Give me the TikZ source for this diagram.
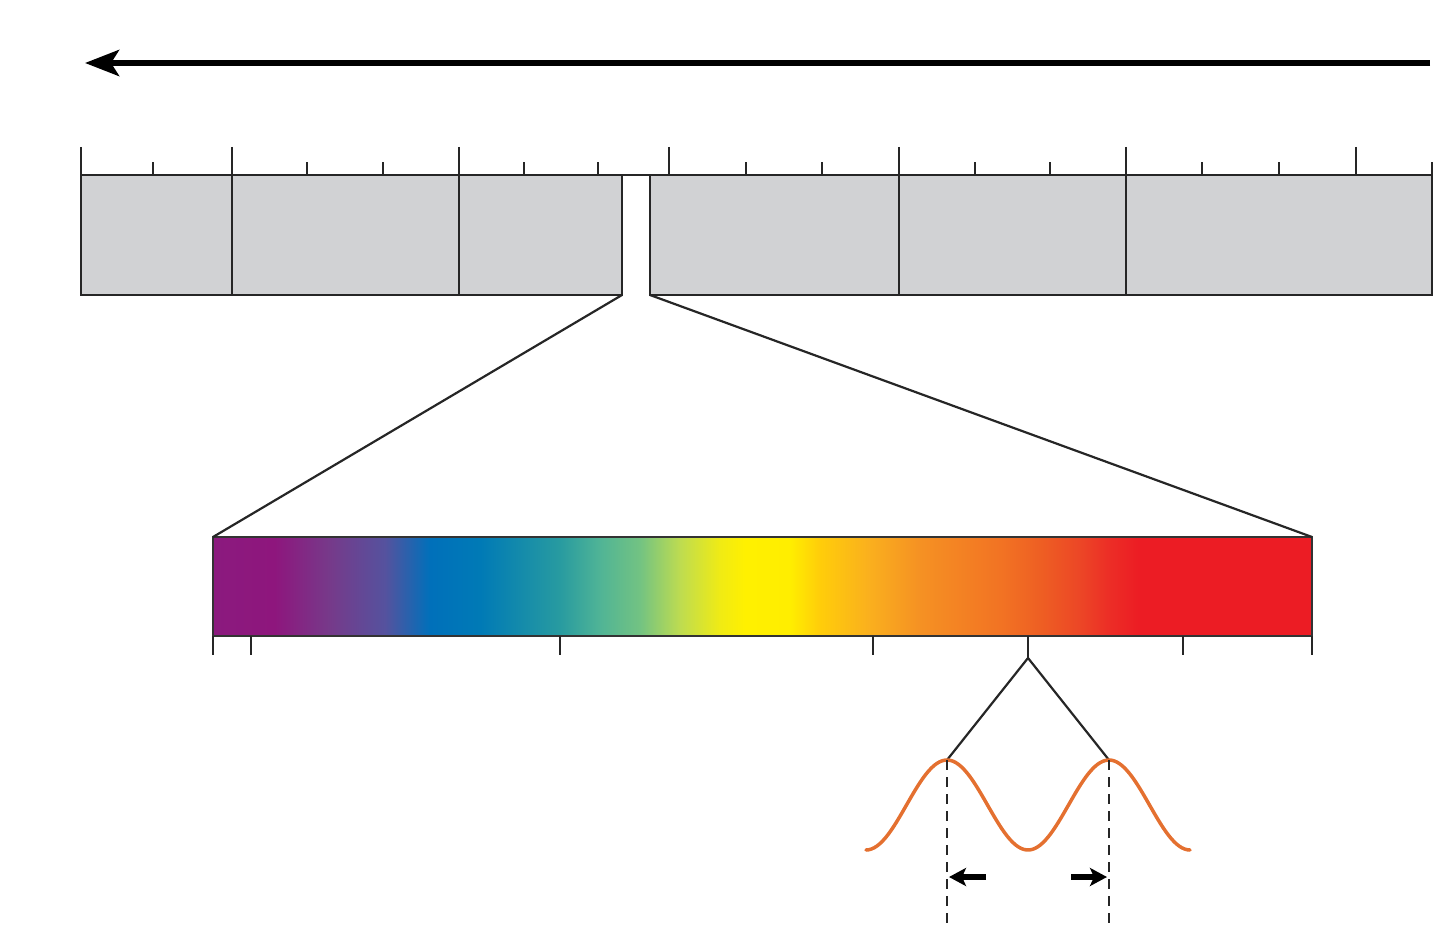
\documentclass[tikz,border=0pt]{standalone}
\usetikzlibrary{arrows.meta}
\definecolor{boxgray}{RGB}{209,210,212}
\definecolor{waveor}{RGB}{228,112,48}
\definecolor{sA}{RGB}{139,26,126}
\definecolor{sB}{RGB}{142,22,125}
\definecolor{sC}{RGB}{118,58,138}
\definecolor{sD}{RGB}{85,82,158}
\definecolor{sE}{RGB}{0,112,186}
\definecolor{sF}{RGB}{0,122,182}
\definecolor{sG}{RGB}{40,155,160}
\definecolor{sH}{RGB}{80,180,150}
\definecolor{sI}{RGB}{115,195,130}
\definecolor{sJ}{RGB}{190,220,80}
\definecolor{sK}{RGB}{240,235,20}
\definecolor{sL}{RGB}{255,240,0}
\definecolor{sM}{RGB}{255,238,0}
\definecolor{sN}{RGB}{255,205,10}
\definecolor{sO}{RGB}{250,175,30}
\definecolor{sP}{RGB}{245,145,35}
\definecolor{sQ}{RGB}{242,115,35}
\definecolor{sR}{RGB}{238,95,35}
\definecolor{sS}{RGB}{236,70,38}
\definecolor{sT}{RGB}{236,45,38}
\definecolor{sU}{RGB}{236,28,36}
\pgfdeclarehorizontalshading{spectrum}{100bp}{color(0bp)=(sA); color(25bp)=(sA); color(27.8bp)=(sB); color(30.32bp)=(sC); color(32.83bp)=(sD); color(34.87bp)=(sE); color(37.15bp)=(sF); color(40.79bp)=(sG); color(42.6bp)=(sH); color(44.43bp)=(sI); color(46.25bp)=(sJ); color(48.07bp)=(sK); color(49.2bp)=(sL); color(51.25bp)=(sM); color(52.61bp)=(sN); color(54.89bp)=(sO); color(57.17bp)=(sP); color(60.81bp)=(sQ); color(62.62bp)=(sR); color(64.45bp)=(sS); color(65.8bp)=(sT); color(67.18bp)=(sU); color(75bp)=(sU); color(100bp)=(sU)}
\tikzset{
  boxline/.style={line width=2.8pt, draw=black!85},
  majortick/.style={line width=2.5pt, draw=black!85},
  zoomline/.style={line width=2.2pt, draw=black!85},
  dashline/.style={line width=2.5pt, draw=black!85, dash pattern=on 10pt off 7pt},
  bigarrow/.style={line width=6pt, -{Stealth[length=34pt,width=26pt,inset=8pt]}},
  smallarrow/.style={line width=6pt, -{Stealth[length=17pt,width=18pt,inset=4pt]}},
}
\begin{document}
\begin{tikzpicture}[x=1pt,y=-1pt]
\useasboundingbox (0,0) rectangle (1440,947);
% top arrow
\coordinate (arrR) at (1430,63);
\coordinate (arrL) at (85,63);
\draw[bigarrow] (arrR) -- (arrL);
% gray boxes
\coordinate (gapL) at (622,295);
\coordinate (gapR) at (650,295);
\filldraw[boxline, fill=boxgray] (81,175) rectangle (gapL);
\filldraw[boxline, fill=boxgray] (650,175) rectangle (1432,295);
\draw[boxline] (622,175) -- (650,175);
\foreach \x in {232,459,899,1126} \draw[boxline] (\x,175) -- (\x,295);
% ticks above
\foreach \x in {81,232,459,669,899,1126,1356} \draw[majortick] (\x,147) -- (\x,175);
\foreach \x in {153,307,383,524,598,746,822,975,1050,1202,1279,1432} \draw[majortick] (\x,162) -- (\x,175);
% spectrum bar
\coordinate (barTL) at (213,537);
\coordinate (barTR) at (1312,537);
\shade[shading=spectrum] (213,537) rectangle (1312,636);
\draw[line width=2.2pt, draw=black!80] (213,537) rectangle (1312,636);
% zoom lines
\draw[zoomline] (gapL) -- (barTL);
\draw[zoomline] (gapR) -- (barTR);
% ticks below bar
\foreach \x in {213,251,560,873,1183,1312} \draw[majortick] (\x,636) -- (\x,655);
\coordinate (apex) at (1028,658);
\coordinate (peakL) at (947,760);
\coordinate (peakR) at (1109,760);
\draw[majortick] (1028,636) -- (apex);
\draw[zoomline] (peakL) -- (apex) -- (peakR);
% wave
\draw[line width=3.5pt, waveor, line cap=round] plot[domain=866:1190, samples=120, smooth] (\x, {805 - 45*cos((\x-947)/162*360)});
% dashed lines
\coordinate (dL) at (947,930);
\coordinate (dR) at (1109,930);
\draw[dashline] (peakL) -- (dL);
\draw[dashline] (peakR) -- (dR);
% small arrows
\coordinate (aLs) at (986,877);
\coordinate (aLe) at (949,877);
\coordinate (aRs) at (1071,877);
\coordinate (aRe) at (1107,877);
\draw[smallarrow] (aLs) -- (aLe);
\draw[smallarrow] (aRs) -- (aRe);
\end{tikzpicture}
\end{document}
